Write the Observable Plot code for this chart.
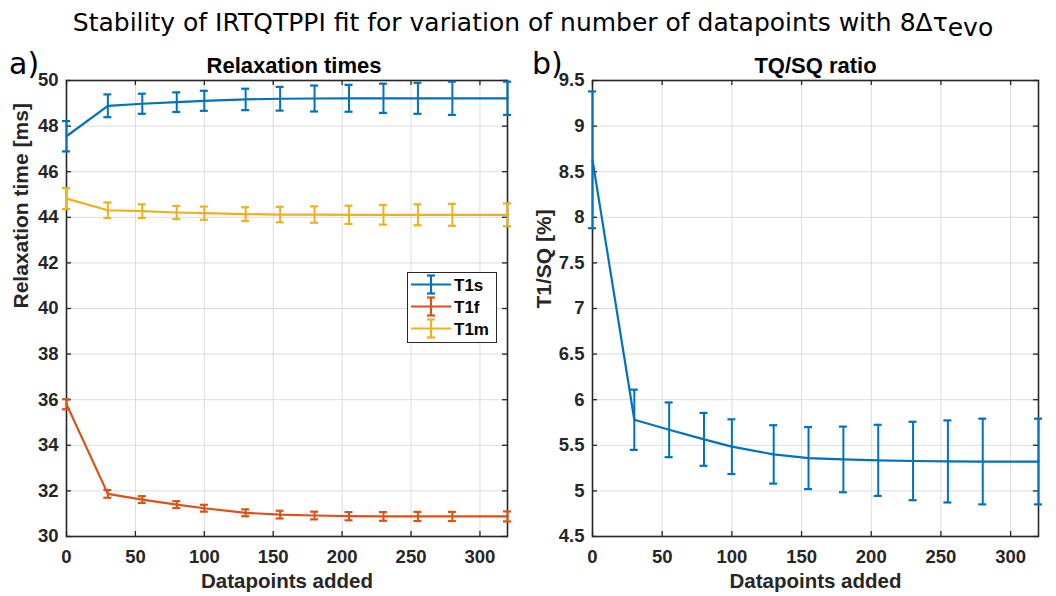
<!DOCTYPE html>
<html>
<head>
<meta charset="utf-8">
<script src="https://cdn.jsdelivr.net/npm/d3@7"></script>
<script src="https://cdn.jsdelivr.net/npm/@observablehq/plot@0.6"></script>
<style>
  html, body { margin: 0; padding: 0; background: #fff; }
  #fig { position: relative; width: 1056px; height: 596px; overflow: hidden; background: #fff; }
  #title { position: absolute; left: 5px; top: 8px; width: 1056px; text-align: center;
           font-family: "DejaVu Sans", sans-serif; font-size: 25px; color: #000; white-space: nowrap; }
  #title sub { font-size: 25px; vertical-align: -5px; line-height: 0; }
  .tag { position: absolute; font-family: "DejaVu Sans", sans-serif; font-size: 30px; color: #000; line-height: 1; }
  .panel { position: absolute; top: 0; }
  #legend { position: absolute; background: #fff; border: 1.5px solid #262626; box-sizing: border-box; }
</style>
</head>
<body>
<div id="fig">
  <div id="title">Stability of IRTQTPPI fit for variation of number of datapoints with 8Δτ<sub>evo</sub></div>
  <div class="tag" style="left:9px;top:49px;">a)</div>
  <div class="tag" style="left:532px;top:49px;">b)</div>
  <div id="left" class="panel" style="left:0px;"></div>
  <div id="right" class="panel" style="left:530px;"></div>
  <div id="legend" style="left:407px;top:272px;width:90px;height:71px;"></div>
</div>
<script>
// Number of datapoints added to the fit
const added = [0, 30, 55, 80, 100, 130, 155, 180, 205, 230, 255, 280, 320];

// Relaxation times [ms] with their fit uncertainties
const t1s    = [47.555, 48.89, 48.98, 49.05, 49.11, 49.17, 49.20, 49.21, 49.22, 49.22, 49.22, 49.22, 49.22];
const t1sErr = [0.665, 0.50, 0.44, 0.43, 0.44, 0.47, 0.52, 0.57, 0.59, 0.64, 0.68, 0.73, 0.73];
const t1f    = [35.80, 31.87, 31.62, 31.40, 31.24, 31.04, 30.96, 30.92, 30.89, 30.88, 30.88, 30.88, 30.88];
const t1fErr = [0.22, 0.17, 0.15, 0.15, 0.15, 0.15, 0.17, 0.17, 0.18, 0.19, 0.20, 0.20, 0.22];
const t1m    = [44.82, 44.31, 44.27, 44.21, 44.18, 44.14, 44.12, 44.12, 44.11, 44.11, 44.11, 44.11, 44.11];
const t1mErr = [0.46, 0.34, 0.30, 0.29, 0.29, 0.30, 0.34, 0.36, 0.40, 0.43, 0.46, 0.48, 0.50];

// TQ/SQ ratio [%] with uncertainty
const ratio    = [8.63, 5.78, 5.67, 5.565, 5.485, 5.40, 5.36, 5.345, 5.335, 5.328, 5.323, 5.322, 5.322];
const ratioErr = [0.75, 0.33, 0.30, 0.29, 0.30, 0.32, 0.34, 0.36, 0.39, 0.43, 0.45, 0.47, 0.47];

// Axis ticks
const xTicks = [0, 50, 100, 150, 200, 250, 300];
const yTicksLeft = [30, 32, 34, 36, 38, 40, 42, 44, 46, 48, 50];
const yTicksRight = [4.5, 5, 5.5, 6, 6.5, 7, 7.5, 8, 8.5, 9, 9.5];

const seriesNames = ["T1s", "T1f", "T1m"];
const colors = { T1s: "#0072BD", T1f: "#D95319", T1m: "#EDB120" };
const ink = "#262626";
const gridColor = "#dcdcdc";

function table(values, errs, name) {
  return added.map((x, i) => ({ x, v: values[i], lo: values[i] - errs[i], hi: values[i] + errs[i], name }));
}

const relax = [
  ...table(t1s, t1sErr, "T1s"),
  ...table(t1f, t1fErr, "T1f"),
  ...table(t1m, t1mErr, "T1m")
];
const tq = table(ratio, ratioErr, "ratio");

const H = 596, TOP = 80, BOTTOM = 60, TICK = 5;

function panel({ width, marginLeft, marginRight, yDomain, yTicks, data, colorOf, title, titleShift, yLabel, yLabelDx }) {
  const pw = width - marginLeft - marginRight;
  const ph = H - TOP - BOTTOM;
  return Plot.plot({
    width, height: H,
    marginLeft, marginRight, marginTop: TOP, marginBottom: BOTTOM,
    style: { background: "transparent", fontFamily: "'Liberation Sans', Arial, sans-serif", color: ink, overflow: "visible" },
    x: { domain: [0, 320] },
    y: { domain: yDomain },
    marks: [
      // grid
      Plot.ruleX(xTicks.slice(1), { stroke: gridColor, strokeWidth: 1 }),
      Plot.ruleY(yTicks, { stroke: gridColor, strokeWidth: 1 }),
      // inward ticks on all four sides
      Plot.ruleX(xTicks, { stroke: ink, strokeWidth: 1.3, insetTop: ph - TICK }),
      Plot.ruleX(xTicks, { stroke: ink, strokeWidth: 1.3, insetBottom: ph - TICK }),
      Plot.ruleY(yTicks, { stroke: ink, strokeWidth: 1.3, insetRight: pw - TICK }),
      Plot.ruleY(yTicks, { stroke: ink, strokeWidth: 1.3, insetLeft: pw - TICK }),
      Plot.frame({ stroke: ink, strokeWidth: 1.6 }),
      // tick labels
      Plot.axisX(xTicks, { tickSize: 0, tickPadding: 13, fontSize: 18.5, fontWeight: "bold", fill: ink, label: null }),
      Plot.axisY(yTicks, { tickSize: 0, tickPadding: 8, fontSize: 18.5, fontWeight: "bold", fill: ink, label: null, tickFormat: d => String(d) }),
      // error bars
      Plot.ruleX(data, { x: "x", y1: "lo", y2: "hi", stroke: colorOf, strokeWidth: 2 }),
      Plot.ruleY(data, { y: "lo", x1: "x", x2: "x", insetLeft: -4, insetRight: -4, stroke: colorOf, strokeWidth: 2.2 }),
      Plot.ruleY(data, { y: "hi", x1: "x", x2: "x", insetLeft: -4, insetRight: -4, stroke: colorOf, strokeWidth: 2.2 }),
      // series line
      Plot.line(data, { x: "x", y: "v", z: "name", stroke: colorOf, strokeWidth: 2.2 }),
      // titles
      Plot.text([title], { frameAnchor: "top", dx: titleShift, dy: -8, lineAnchor: "bottom", fontSize: 22, fontWeight: "bold", fill: "#000" }),
      Plot.text(["Datapoints added"], { frameAnchor: "bottom", dy: 45, lineAnchor: "middle", fontSize: 20.5, fontWeight: "bold", fill: ink }),
      Plot.text([yLabel], { frameAnchor: "left", dx: yLabelDx, rotate: -90, lineAnchor: "middle", fontSize: 21, fontWeight: "bold", fill: ink })
    ]
  });
}

document.getElementById("left").append(panel({
  width: 530, marginLeft: 66, marginRight: 23,
  yDomain: [30, 50], yTicks: yTicksLeft,
  data: relax, colorOf: d => colors[d.name],
  title: "Relaxation times", titleShift: 7, yLabel: "Relaxation time [ms]", yLabelDx: -45
}));

document.getElementById("right").append(panel({
  width: 526, marginLeft: 62, marginRight: 18,
  yDomain: [4.5, 9.5], yTicks: yTicksRight,
  data: tq, colorOf: () => colors.T1s,
  title: "TQ/SQ ratio", titleShift: 0, yLabel: "T1/SQ [%]", yLabelDx: -48
}));

// Legend for the relaxation panel
const lg = d3.select("#legend").append("svg").attr("width", 87).attr("height", 68)
  .style("position", "absolute").style("left", "0px").style("top", "0px");
seriesNames.forEach((name, i) => {
  const cy = 11.5 + i * 22;
  const g = lg.append("g").attr("stroke", colors[name]).attr("stroke-width", 2.2);
  g.append("line").attr("x1", 3).attr("x2", 43).attr("y1", cy).attr("y2", cy);
  g.append("line").attr("x1", 23).attr("x2", 23).attr("y1", cy - 9).attr("y2", cy + 9);
  g.append("line").attr("x1", 19).attr("x2", 27).attr("y1", cy - 9).attr("y2", cy - 9);
  g.append("line").attr("x1", 19).attr("x2", 27).attr("y1", cy + 9).attr("y2", cy + 9);
  lg.append("text").attr("x", 46).attr("y", cy).attr("dy", "0.36em")
    .attr("font-family", "'Liberation Sans', Arial, sans-serif").attr("font-weight", "bold")
    .attr("font-size", 17).attr("fill", "#000").text(name);
});
</script>
</body>
</html>
